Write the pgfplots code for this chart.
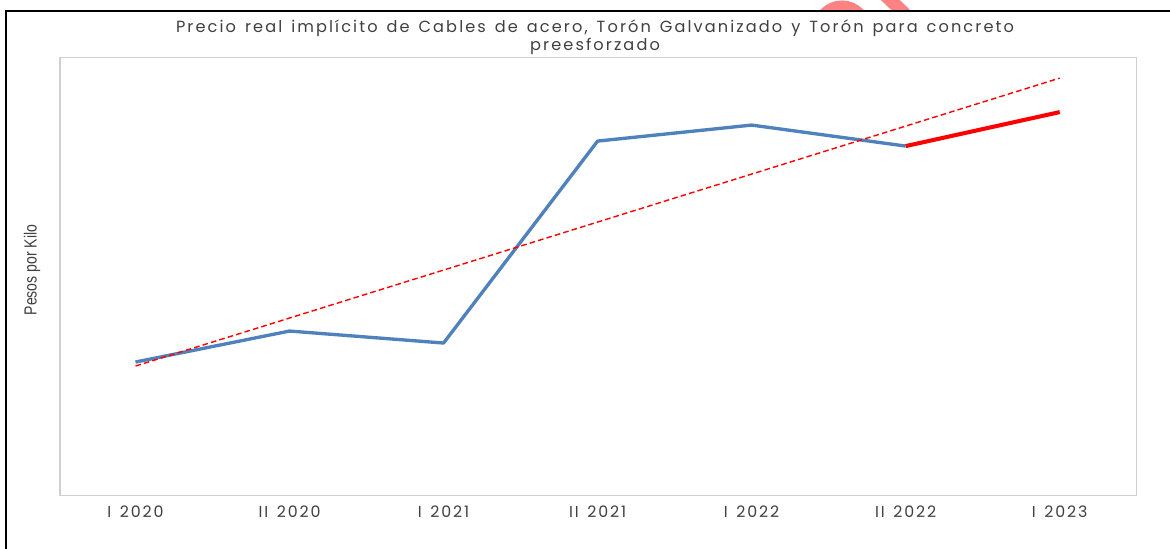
\documentclass[border=0pt]{standalone}
\usepackage{pgfplots}
\pgfplotsset{compat=1.18}
\usepackage{fontspec}
\setmainfont{Poppins}
\newfontfamily\widefont[LetterSpace=13,WordSpace=1.4]{Poppins}
\newfontfamily\tickfont[LetterSpace=12,WordSpace=1.4]{Poppins}
\newfontfamily\condfont[FakeStretch=0.8]{Liberation Sans}
\definecolor{serieblue}{HTML}{4F81BD}
\definecolor{txtgray}{HTML}{404040}
\definecolor{boxgray}{HTML}{D0D0D0}
\definecolor{markpink}{HTML}{FF8282}

\begin{document}
\begin{tikzpicture}[x=0.02cm,y=0.02cm]
  % canvas 1170 x 548 px, origin bottom left
  \useasboundingbox[fill=white] (0,0) rectangle (1170,548);
  % stray mark above the frame
  \begin{scope}
    \clip (0,538) rectangle (1170,548);
    \draw[markpink,line width=0.22cm] (842,518) circle (24);
    \draw[markpink,line width=0.26cm] (885,553) -- (905,534);
  \end{scope}
  % frame
  \draw[black,line width=1.6pt] (6,-1) -- (6,537) -- (1171,537);
  % title
  \node[txtgray,font=\widefont\fontsize{9.2}{10}\selectfont,align=center] at (595,510.5)
    {Precio real implícito de Cables de acero, Torón Galvanizado y Torón para concreto\\preesforzado};
  % y label
  \node[txtgray,font=\condfont\fontsize{10}{12}\selectfont,rotate=90] at (32,278) {Pesos por Kilo};

  \begin{axis}[
      at={(1.2cm,1.05cm)}, anchor=south west,
      scale only axis,
      width=21.54cm, height=8.77cm,
      xmin=-0.49, xmax=6.5,
      ymin=0, ymax=438.5,
      axis line style={boxgray,line width=0.6pt},
      xtick={0,...,6},
      xticklabels={I 2020, II 2020, I 2021, II 2021, I 2022, II 2022, I 2023},
      ytick=\empty,
      major tick length=0pt,
      xticklabel style={txtgray,font=\tickfont\fontsize{9}{11}\selectfont,yshift=-2.5pt},
      clip=false,
    ]
    % historical series
    \addplot[serieblue,line width=1.9pt,mark=none,line join=round]
      coordinates {(0,133.5) (1,164.5) (2,152.5) (3,354.5) (4,370.5) (5,349.5)};
    % latest step
    \addplot[red,line width=2.3pt,mark=none]
      coordinates {(5,349.5) (6,383.5)};
    % linear trend
    \addplot[red,line width=0.8pt,dash pattern=on 3.2pt off 1.8pt,mark=none]
      coordinates {(0,129.5) (6,417.5)};
  \end{axis}
\end{tikzpicture}
\end{document}
